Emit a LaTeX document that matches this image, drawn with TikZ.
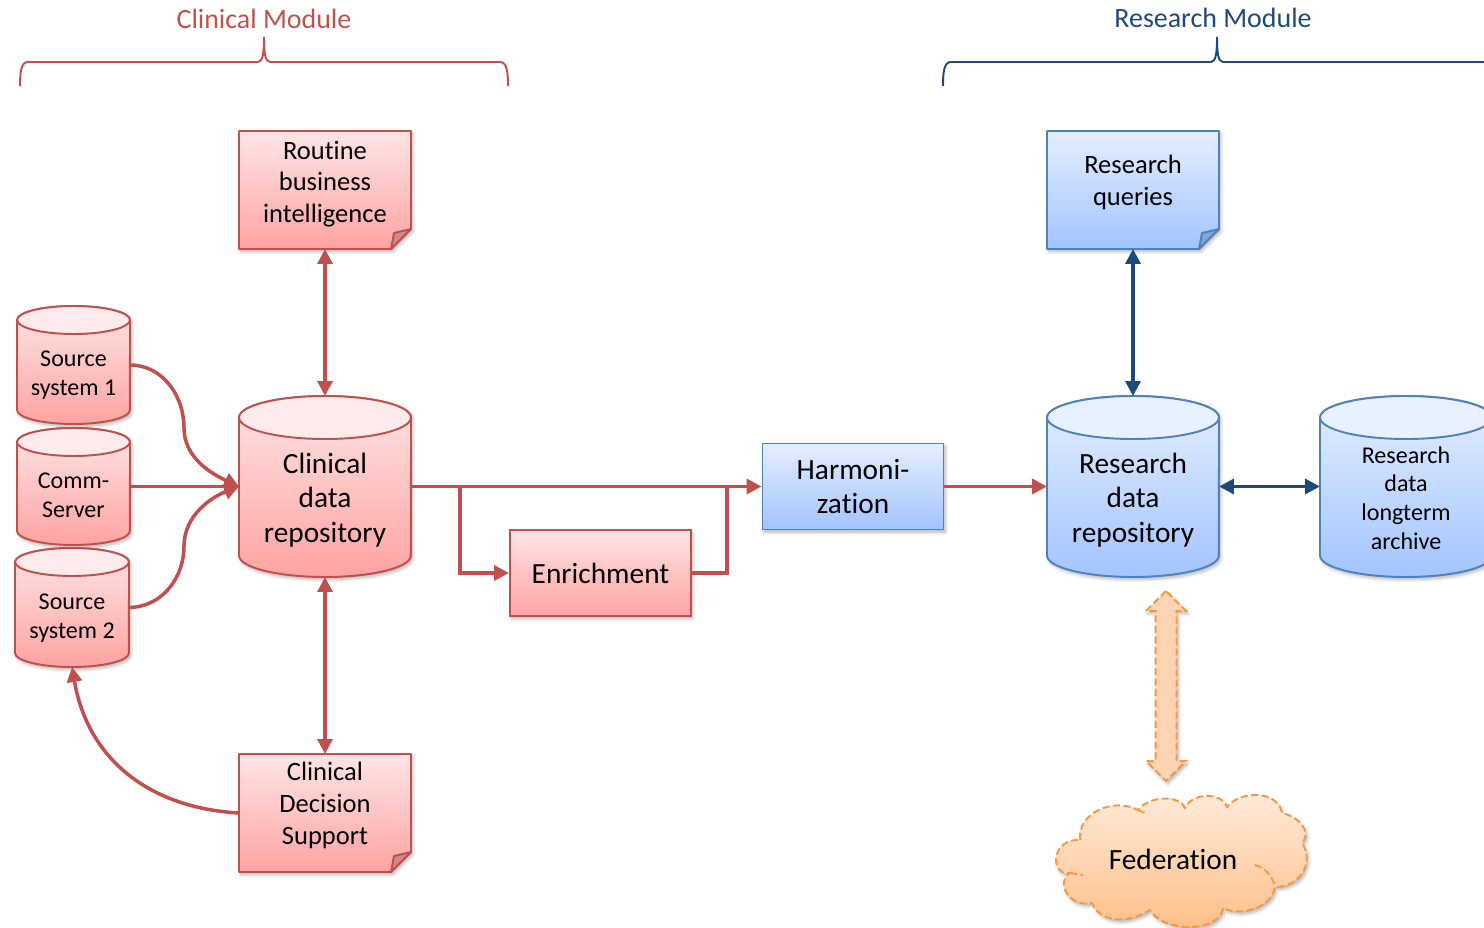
\documentclass[tikz,border=0pt]{standalone}
\usepackage{fontspec}
\setmainfont[Ligatures=NoCommon]{Carlito}
\usepackage{tikz}
\usetikzlibrary{positioning,calc,shapes.arrows,arrows.meta,shadows.blur}
\definecolor{myred}{RGB}{192, 80, 77}
\definecolor{myblue}{RGB}{79, 129, 189}
\definecolor{mynavy}{RGB}{31, 73, 125}
\definecolor{myorange}{RGB}{247, 150, 70}
\tikzstyle{softshadow}=[blur shadow={shadow xshift=1pt,shadow yshift=-1.5pt,shadow blur steps=6,shadow opacity=30}]
\tikzstyle{redbox}=[draw=myred,line width=1.1pt,top color={rgb,255:red,255;green,229;blue,229},bottom color={rgb,255:red,255;green,163;blue,163},softshadow]
\tikzstyle{bluebox}=[draw=myblue,line width=1.1pt,top color={rgb,255:red,229;green,238;blue,255},bottom color={rgb,255:red,163;green,196;blue,255},softshadow]
\tikzstyle{orangebox}=[draw=myorange,line width=1.1pt,dash pattern=on 4pt off 2pt,top color={rgb,255:red,255;green,235;blue,219},bottom color={rgb,255:red,255;green,190;blue,134},softshadow]
\tikzstyle{redtop}=[draw=myred,line width=1.1pt,fill={rgb,255:red,255;green,235;blue,235}]
\tikzstyle{bluetop}=[draw=myblue,line width=1.1pt,fill={rgb,255:red,232;green,241;blue,255}]
\tikzstyle{redfold}=[draw=myred,line width=1.1pt,fill={rgb,255:red,208;green,136;blue,136}]
\tikzstyle{bluefold}=[draw=myblue,line width=1.1pt,fill={rgb,255:red,128;green,164;blue,214}]
\tikzstyle{anchorbox}=[inner sep=0pt,outer sep=0pt]
\tikzstyle{titletext}=[align=center,font=\fontsize{15.9}{19}\selectfont]
\tikzstyle{bigtext}=[align=center,font=\fontsize{16.7}{19.8}\selectfont]
\tikzstyle{midtext}=[align=center,font=\fontsize{15.1}{18.1}\selectfont]
\tikzstyle{smalltext}=[align=center,font=\fontsize{13.7}{16.4}\selectfont]
\tikzstyle{arr}=[line width=2pt,-{Triangle[length=8.5pt,width=8.5pt]}]
\tikzstyle{arrboth}=[line width=2pt,{Triangle[length=8.5pt,width=8.5pt]}-{Triangle[length=8.5pt,width=8.5pt]}]
\tikzstyle{line}=[line width=2pt]

% name, x, y, w, h, ry, colour, text y, text style, text
\newcommand{\dbcyl}[9]{
  \pgfmathsetmacro{\xa}{#2-#4/2}
  \pgfmathsetmacro{\xb}{#2+#4/2}
  \pgfmathsetmacro{\ya}{#3-#5/2+#6}
  \pgfmathsetmacro{\yb}{#3+#5/2-#6}
  \draw[#7box] (\xa,\ya) -- (\xa,\yb) arc[start angle=180,end angle=360,x radius=#4*0.01cm,y radius=#6*0.02cm]
    -- (\xb,\ya) arc[start angle=0,end angle=180,x radius=#4*0.01cm,y radius=#6*0.02cm] -- cycle;
  \draw[#7top] (#2,\ya) ellipse [x radius=#4*0.01cm,y radius=#6*0.02cm];
  \node (#1) at (#2,#3) [anchorbox,minimum width=#4*0.02cm,minimum height=#5*0.02cm] {};
  \node (#1text) at (#2,#8) [#9]
}
% name, x, y, w, h, colour, text y, text style, text
\newcommand{\notebox}[9]{
  \pgfmathsetmacro{\xa}{#2-#4/2}
  \pgfmathsetmacro{\xb}{#2+#4/2}
  \pgfmathsetmacro{\ya}{#3-#5/2}
  \pgfmathsetmacro{\yb}{#3+#5/2}
  \draw[#6box,line join=round] (\xa,\ya) -- (\xb,\ya) -- (\xb,\yb-20) -- (\xb-20,\yb) -- (\xa,\yb) -- cycle;
  \draw[#6fold,line join=round] (\xb,\yb-20) -- (\xb-17,\yb-16) -- (\xb-20,\yb) -- cycle;
  \node (#1) at (#2,#3) [anchorbox,minimum width=#4*0.02cm,minimum height=#5*0.02cm] {};
  \node (#1text) at (#2,#7) [#8] {#9};
}
% left end, tip, right end, colour
\newcommand{\modulebrace}[4]{
  \draw[#4,line width=1.1pt] (#1,86) .. controls (#1,72) and (#1+1,62) .. (#1+8,62) -- (#2-6,62)
    .. controls (#2-1,62) and (#2,52) .. (#2,37) .. controls (#2,52) and (#2+1,62) .. (#2+6,62)
    -- (#3-8,62) .. controls (#3-1,62) and (#3,72) .. (#3,86);
}

\begin{document}
\begin{tikzpicture}[x=0.02cm,y=-0.02cm]
      \useasboundingbox (0,0) rectangle (1484,927);

      \node (clinicaltitle) at (264,19) [text=myred,titletext] {Clinical Module};
      \node (researchtitle) at (1213,18) [text=mynavy,titletext] {Research Module};
      \modulebrace{20}{264}{508}{myred}
      \modulebrace{943}{1217}{1491}{mynavy}

      % clinical side
      \dbcyl{source1}{73.5}{365}{113}{118}{14}{red}{375}{smalltext} {Source\\system 1};
      \dbcyl{comm}{73.5}{486.5}{113}{117}{14}{red}{495}{smalltext} {Comm-\\Server};
      \dbcyl{source2}{72}{607.5}{114}{119}{14}{red}{618}{smalltext} {Source\\system 2};
      \dbcyl{clinical}{325}{486.5}{172}{181}{21.5}{red}{500}{bigtext} {Clinical\\data\\repository};
      \notebox{routine}{325}{190}{172}{118}{red}{184}{midtext}{Routine\\business\\intelligence}
      \notebox{decision}{325}{813}{172}{118}{red}{805.5}{midtext}{Clinical\\Decision\\Support}
      \node (enrichment) at (600.5,573) [redbox,minimum width=181*0.02cm,minimum height=86*0.02cm,bigtext] {Enrichment};

      % research side
      \node (harmonization) at (853,486.5) [bluebox,minimum width=181*0.02cm,minimum height=86*0.02cm,bigtext] {Harmoni-\\zation};
      \dbcyl{research}{1133}{486.5}{172}{181}{21.5}{blue}{500}{bigtext} {Research\\data\\repository};
      \dbcyl{archive}{1406}{486.5}{172}{181}{21.5}{blue}{498}{smalltext} {Research\\data\\longterm\\archive};
      \notebox{queries}{1133}{190}{172}{118}{blue}{182.5}{midtext}{Research\\queries}

      % federation
      \node (fedarrow) at (1166,686) [double arrow,rotate=90,double arrow tip angle=90,draw=myorange,line width=1.1pt,dash pattern=on 4pt off 2pt,
        left color={rgb,255:red,255;green,212;blue,178},right color={rgb,255:red,255;green,212;blue,178},softshadow,
        minimum height=190*0.02cm,minimum width=38*0.02cm,double arrow head extend=9.5*0.02cm,inner sep=9.5*0.02cm] {};
      \draw[orangebox] (1080,840) .. controls (1077,813) and (1113,797) .. (1138,810)
        .. controls (1150,795) and (1180,795) .. (1185,808)
        .. controls (1192,792) and (1222,792) .. (1227,807)
        .. controls (1240,790) and (1278,790) .. (1282,813)
        .. controls (1300,817) and (1312,833) .. (1302,843)
        .. controls (1315,863) and (1300,887) .. (1275,887)
        .. controls (1272,908) and (1240,917) .. (1223,908)
        .. controls (1220,933) and (1163,933) .. (1150,910)
        .. controls (1125,925) and (1100,922) .. (1092,903)
        .. controls (1067,908) and (1056,880) .. (1070,873)
        .. controls (1050,877) and (1050,838) .. (1080,840) -- cycle;
      \draw[myorange,line width=1.1pt,dash pattern=on 4pt off 2pt] (1138,810) -- (1145,813);
      \draw[myorange,line width=1.1pt,dash pattern=on 4pt off 2pt] (1255,865) .. controls (1265,868) and (1272,875) .. (1275,887);
      \draw[myorange,line width=1.1pt,dash pattern=on 4pt off 2pt] (1070,873) -- (1083,875);
      \node (federation) at (1173,859) [bigtext] {Federation};

      \coordinate (bend1) at (184,428);
      \coordinate (bend2) at (184,546);
      \coordinate (branch) at (460,486.5);
      \coordinate (merge) at (727,486.5);

      \draw[line,myred] (source1.east) .. controls (162,365) and (184,395) .. (bend1);
      \draw[arr,myred] (bend1) .. controls (184,458) and (212,474) .. (clinical.west);
      \draw[line,myred] (source2.east) .. controls (162,607) and (184,578) .. (bend2);
      \draw[arr,myred] (bend2) .. controls (184,515) and (212,497) .. (clinical.west);
      \draw[arr,myred] (comm.east) -- (clinical.west);
      \draw[arrboth,myred] (routine.south) -- (clinical.north);
      \draw[arrboth,myred] (decision.north) -- (clinical.south);
      \draw[arr,myred] (decision.west) .. controls (150,808) and (88,760) .. (source2.south);
      \draw[arr,myred] (clinical.east) -- (harmonization.west);
      \draw[arr,myred] (branch) |- (enrichment.west);
      \draw[line,myred] (enrichment.east) -| (merge);
      \draw[arr,myred] (harmonization.east) -- (research.west);
      \draw[arrboth,mynavy] (queries.south) -- (research.north);
      \draw[arrboth,mynavy] (research.east) -- (archive.west);
\end{tikzpicture}
\end{document}
